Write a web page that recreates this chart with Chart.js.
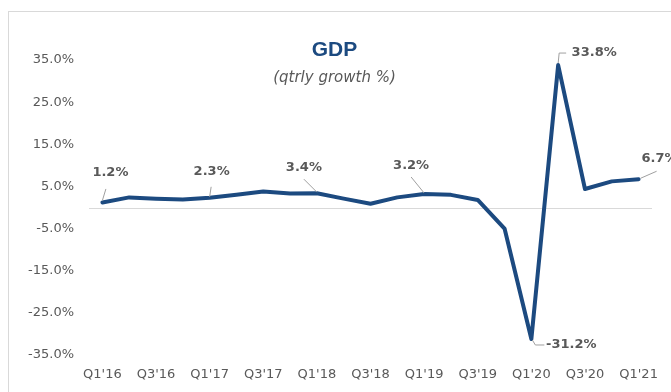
<!DOCTYPE html>
<html>
<head>
<meta charset="utf-8">
<script src="https://cdn.jsdelivr.net/npm/chart.js@4.4.0/dist/chart.umd.min.js"></script>
<style>
  body { margin: 0; background: #fff; }
  canvas { display: block; }
</style>
</head>
<body>
<canvas id="chart" width="671" height="392"></canvas>
<script>
const quarters = [
  "Q1'16", "Q2'16", "Q3'16", "Q4'16",
  "Q1'17", "Q2'17", "Q3'17", "Q4'17",
  "Q1'18", "Q2'18", "Q3'18", "Q4'18",
  "Q1'19", "Q2'19", "Q3'19", "Q4'19",
  "Q1'20", "Q2'20", "Q3'20", "Q4'20",
  "Q1'21"
]
const gdpGrowth = [
  1.2, 2.4, 2.1, 1.9,
  2.3, 3.0, 3.8, 3.3,
  3.4, 2.1, 0.9, 2.4,
  3.2, 3.0, 1.8, -5.0,
  -31.2, 33.8, 4.4, 6.2,
  6.7
]
const yTicks = [-35, -25, -15, -5, 5, 15, 25, 35]
const labelledPoints = [0, 4, 8, 12, 16, 17, 20]

const grey = '#595959'
const navy = '#1c4a80'

// label offsets + leader lines, relative to the point
const labelLayout = {
  0:  { dx: 8,   dy: -30, leader: [[0, -2], [3.5, -13.5]] },
  4:  { dx: 2,   dy: -26, leader: [[0, -1], [1.5, -11]] },
  8:  { dx: -13, dy: -26, leader: [[0, -1], [-13, -14]] },
  12: { dx: -13, dy: -28, leader: [[0, -1], [-13, -17]] },
  16: { dx: 40,  dy: 6,   leader: [[1, 1], [4, 6], [13, 6]] },
  17: { dx: 36,  dy: -12, leader: [[0, -2], [1, -12], [8, -12]] },
  20: { dx: 21,  dy: -21, leader: [[2, -1], [18, -8]] },
}

const frame = {
  id: 'frame',
  beforeDraw(chart) {
    const ctx = chart.ctx
    ctx.save()
    ctx.fillStyle = '#fff'
    ctx.fillRect(0, 0, chart.width, chart.height)
    ctx.strokeStyle = '#d9d9d9'
    ctx.lineWidth = 1
    ctx.strokeRect(8.5, 11.5, chart.width + 20, chart.height + 20)
    ctx.restore()
  },
  beforeDatasetsDraw(chart) {
    // zero line
    const ctx = chart.ctx
    const y = Math.round(chart.scales.y.getPixelForValue(0)) + 0.5
    ctx.save()
    ctx.strokeStyle = '#d9d9d9'
    ctx.lineWidth = 1
    ctx.beginPath()
    ctx.moveTo(chart.chartArea.left, y)
    ctx.lineTo(chart.chartArea.right, y)
    ctx.stroke()
    ctx.restore()
  },
  afterDraw(chart) {
    const ctx = chart.ctx
    const cx = chart.width / 2 - 1
    ctx.save()
    ctx.textAlign = 'center'
    ctx.textBaseline = 'middle'
    ctx.fillStyle = navy
    ctx.font = 'bold 21px "Liberation Sans"'
    ctx.fillText('GDP', cx, 50)
    ctx.fillStyle = grey
    ctx.font = 'italic 15px "DejaVu Sans"'
    ctx.fillText('(qtrly growth %)', cx, 78)
    ctx.restore()
  }
}

const pointLabels = {
  id: 'pointLabels',
  afterDatasetsDraw(chart) {
    const ctx = chart.ctx
    const meta = chart.getDatasetMeta(0)
    ctx.save()
    labelledPoints.forEach(i => {
      const p = meta.data[i]
      const l = labelLayout[i]
      ctx.strokeStyle = '#a0a0a0'
      ctx.lineWidth = 1
      ctx.beginPath()
      l.leader.forEach(([x, y], k) => {
        if (k === 0) ctx.moveTo(p.x + x, p.y + y)
        else ctx.lineTo(p.x + x, p.y + y)
      })
      ctx.stroke()
      ctx.fillStyle = grey
      ctx.font = 'bold 13px "DejaVu Sans"'
      ctx.textAlign = 'center'
      ctx.textBaseline = 'middle'
      ctx.fillText(gdpGrowth[i].toFixed(1) + '%', p.x + l.dx, p.y + l.dy)
    })
    ctx.restore()
  }
}

new Chart(document.getElementById('chart'), {
  type: 'line',
  data: {
    labels: quarters,
    datasets: [{
      data: gdpGrowth,
      borderColor: navy,
      borderWidth: 4,
      pointRadius: 0,
      tension: 0,
      borderCapStyle: 'round',
      borderJoinStyle: 'round',
    }]
  },
  options: {
    responsive: false,
    animation: false,
    layout: { padding: { top: 60, right: 19, bottom: 0, left: 0 } },
    plugins: {
      legend: { display: false },
      tooltip: { enabled: false },
      title: { display: false },
    },
    scales: {
      x: {
        type: 'category',
        offset: true,
        grid: { display: false, drawTicks: false },
        border: { display: false },
        ticks: {
          autoSkip: false,
          maxRotation: 0,
          padding: 12,
          color: grey,
          font: { family: 'DejaVu Sans', size: 13 },
          callback: (v, i) => i % 2 === 0 ? quarters[i] : '',
        },
        afterFit: s => { s.height = 37 },
      },
      y: {
        min: -35,
        max: 35,
        grid: { display: false, drawTicks: false },
        border: { display: false },
        afterBuildTicks: s => { s.ticks = yTicks.map(v => ({ value: v })) },
        ticks: {
          padding: 15,
          color: grey,
          font: { family: 'DejaVu Sans', size: 13 },
          callback: v => v.toFixed(1) + '%',
        },
        afterFit: s => { s.width = 89 },
      }
    }
  },
  plugins: [frame, pointLabels]
})
</script>
</body>
</html>
